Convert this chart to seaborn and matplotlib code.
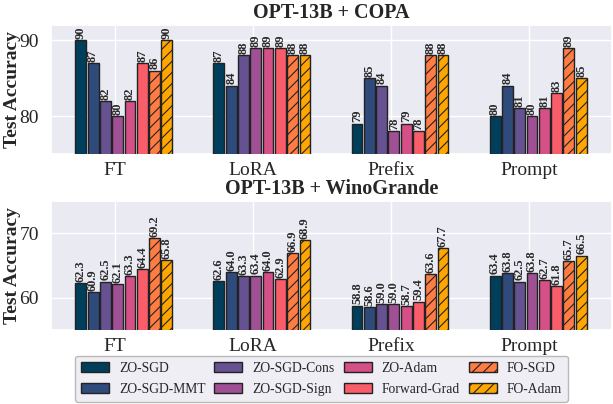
import numpy as np
import matplotlib
matplotlib.use("Agg")
import matplotlib.pyplot as plt
import seaborn as sns

methods = ["ZO-SGD", "ZO-SGD-MMT", "ZO-SGD-Cons", "ZO-SGD-Sign",
           "ZO-Adam", "Forward-Grad", "FO-SGD", "FO-Adam"]
colors = ["#003f5c", "#2f4b7c", "#665191", "#a05195",
          "#d45087", "#f95d6a", "#ff7c43", "#ffa600"]
hatched = ["FO-SGD", "FO-Adam"]
groups = ["FT", "LoRA", "Prefix", "Prompt"]

# rows: FT, LoRA, Prefix, Prompt ; cols: methods
copa = [
    [90, 87, 82, 80, 82, 87, 86, 90],
    [87, 84, 88, 89, 89, 89, 88, 88],
    [79, 85, 84, 78, 79, 78, 88, 88],
    [80, 84, 81, 80, 81, 83, 89, 85],
]
wino = [
    [62.3, 60.9, 62.5, 62.1, 63.3, 64.4, 69.2, 65.8],
    [62.6, 64.0, 63.3, 63.4, 64.0, 62.9, 66.9, 68.9],
    [58.8, 58.6, 59.0, 59.0, 58.7, 59.4, 63.6, 67.7],
    [63.4, 63.8, 62.5, 63.8, 62.7, 61.8, 65.7, 66.5],
]

sns.set_theme(style="darkgrid")
plt.rcParams["font.family"] = ["Liberation Serif", "DejaVu Serif"]
plt.rcParams["hatch.linewidth"] = 0.8

fig = plt.figure(figsize=(6.13, 4.04), dpi=100)
ax1 = fig.add_axes([0.084, 0.619, 0.914, 0.319])
ax2 = fig.add_axes([0.084, 0.183, 0.914, 0.320])

step = 0.089
x = np.arange(len(groups))

def draw(ax, data, title, ylim, yticks, fmt):
    data = np.array(data)
    handles = []
    for i, m in enumerate(methods):
        bars = ax.bar(x + (i - 2.75) * step, data[:, i], width=step * 0.88,
                      color=colors[i], edgecolor="#222222", linewidth=1.0,
                      hatch="///" if m in hatched else None, label=m, zorder=3)
        handles.append(bars)
        for b, v in zip(bars, data[:, i]):
            ax.text(b.get_x() + b.get_width() / 2, v + 0.01 * (ylim[1] - ylim[0]),
                    fmt.format(v), rotation=90, ha="center", va="bottom",
                    fontsize=9, fontweight="bold", color="#2a2a2a", zorder=4)
    ax.set_ylim(*ylim)
    ax.set_yticks(yticks)
    ax.set_xlim(-0.457, 3.6)
    ax.set_xticks(x)
    ax.set_xticklabels(groups, fontsize=14)
    ax.tick_params(axis="y", labelsize=14, pad=3)
    ax.tick_params(axis="x", pad=0)
    ax.set_ylabel("Test Accuracy", fontsize=14, fontweight="bold", labelpad=-1)
    ax.set_title(title, fontsize=14.5, fontweight="bold", pad=5)
    return handles

handles = draw(ax1, copa, "OPT-13B + COPA", (75, 92), [80, 90], "{:.0f}")
draw(ax2, wino, "OPT-13B + WinoGrande", (55, 75), [60, 70], "{:.1f}")

fig.legend(handles, methods, loc="lower center", bbox_to_anchor=(0.5245, -0.012),
           ncol=4, fontsize=9.8, frameon=True, handlelength=2.06,
           columnspacing=0.66, handletextpad=0.73, labelspacing=0.6,
           borderpad=0.45, facecolor="#eaeaf2", edgecolor="#aaaaaa")

fig.savefig("out.png", dpi=100)
